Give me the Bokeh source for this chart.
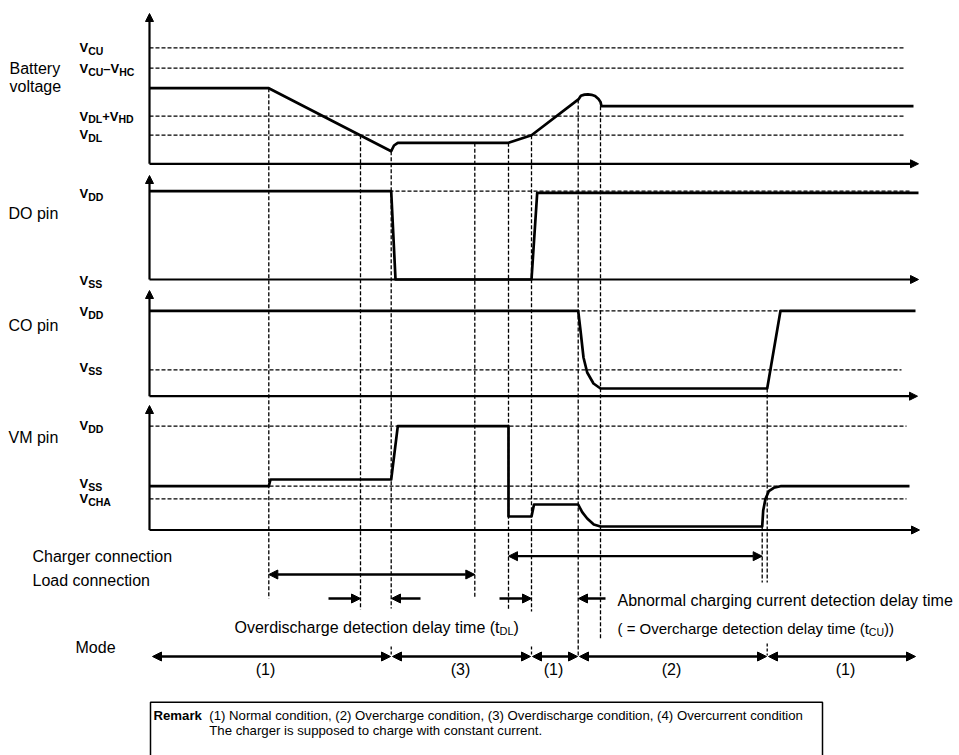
from bokeh.plotting import figure
from bokeh.models import Range1d, Arrow, NormalHead, ColumnDataSource
from bokeh.core.properties import value
from bokeh.embed import file_html
from bokeh.resources import INLINE

FONT = "Liberation Sans"

# ---------------- data (page pixel units) ----------------
origin_x = 149
axis_base_y = [163.3, 279.0, 395.7, 529.5]
axis_top_y = [13, 175, 290, 405]
axis_end_x = [918, 918, 917, 919]

# horizontal reference (dashed) levels
ref_y = [47.3, 67.7, 115.7, 134.7, 190.7, 310.3, 369.3, 425.7, 485.7, 498.3]
ref_end = [904, 904, 904, 904, 910, 912, 901, 906, 906, 906]

# waveforms
battery_t = [149, 268.3, 390.7, 393.5, 397.3, 508, 531, 577.9, 580.4, 584, 587.5, 591, 594.6, 598, 600, 601, 913]
battery_v = [87.7, 87.7, 150.7, 145, 142.3, 142.3, 134.7, 98.9, 95.3, 94.1, 93.9, 94.3, 95.5, 98.5, 101.4, 105.7, 105.7]
do_t = [149, 390.7, 395, 531, 536.7, 918]
do_v = [190.7, 190.7, 279, 279, 192.3, 192.3]
co_t = [149, 577.7, 580, 583, 586.7, 593, 600, 766.7, 780, 915]
co_v = [310.3, 310.3, 330, 357, 372, 383, 388, 388, 310.3, 310.3]
vm_t = [149, 268.3, 270, 390.7, 397.3, 508, 508, 531, 533.5, 577.7, 581.7, 586.7, 593.3, 600,
        761.7, 762.7, 765, 768.3, 773.3, 780, 909]
vm_v = [485.7, 485.7, 479, 479, 425.7, 425.7, 516, 516, 504, 504, 511.7, 518, 524, 526,
        526, 510, 498.3, 490.7, 487.3, 485.7, 485.7]

# vertical dashed time markers
mark_x = [268.3, 360, 390.7, 474.3, 508, 531, 577.7, 600, 761.7, 766.7]
mark_top = [87.7, 134.7, 150.7, 142.3, 142.3, 134.7, 98.9, 105.7, 526, 388]
mark_bot = [598, 609, 608, 597, 610, 611, 655, 639, 582, 582]
tick_x = [390.7, 531, 766.7]
tick_top = [646, 646, 643]
tick_bot = [655, 655, 655]

# connection arrows (double headed)
conn_x0 = [508, 268.3]
conn_x1 = [761.7, 474.3]
conn_y = [555.7, 574]
# delay arrows (single headed)
delay_x0 = [328, 420, 499, 605]
delay_x1 = [360, 391, 531, 578]
delay_y = [598, 598, 598, 598]

# mode row
mode_x0 = [152, 392, 532, 579, 768]
mode_x1 = [390, 530, 577, 766, 915]
mode_y = 656
mode_labels = ["(1)", "(3)", "(1)", "(2)", "(1)"]
mode_label_x = [265, 460, 553, 671, 845]

# left labels
side_text = ["Battery", "voltage", "DO pin", "CO pin", "VM pin", "Charger connection", "Load connection", "Mode"]
side_x = [9, 9, 8, 8, 8, 32, 32, 75]
side_y = [68, 86, 213, 325, 437, 556, 580, 647]

# voltage level labels: segments (text, is_subscript)
level_labels = [
    [("V", 0), ("CU", 1)],
    [("V", 0), ("CU", 1), ("\u2013", 0), ("V", 0), ("HC", 1)],
    [("V", 0), ("DL", 1), ("+", 0), ("V", 0), ("HD", 1)],
    [("V", 0), ("DL", 1)],
    [("V", 0), ("DD", 1)],
    [("V", 0), ("SS", 1)],
    [("V", 0), ("DD", 1)],
    [("V", 0), ("SS", 1)],
    [("V", 0), ("DD", 1)],
    [("V", 0), ("SS", 1)],
    [("V", 0), ("CHA", 1)],
]
level_label_y = [47, 68, 115.5, 134, 193, 280, 311, 367, 425, 483, 498]
level_label_x = 79

remark_lines = ["(1) Normal condition, (2) Overcharge condition, (3) Overdischarge condition, (4) Overcurrent condition",
                "The charger is supposed to charge with constant current."]

# ---------------- helpers ----------------
REG = dict(zip(" ()=,.0123456789", [278, 333, 333, 584, 278, 278] + [556] * 10))
REG.update(dict(A=667, B=667, C=722, D=722, E=667, F=611, G=778, H=722, I=278, J=500, K=667, L=556, M=833,
                N=722, O=778, P=667, Q=778, R=722, S=667, T=611, U=722, V=667, W=944, X=667, Y=667, Z=611,
                a=556, b=556, c=500, d=556, e=556, f=278, g=556, h=556, i=222, j=222, k=500, l=222, m=833,
                n=556, o=556, p=556, q=556, r=333, s=500, t=278, u=556, v=500, w=722, x=500, y=500, z=500))
BOLD = dict(A=722, C=722, D=722, H=722, L=611, S=667, U=722, V=667, R=722, e=556, m=889, a=556, r=389, k=556)
BOLD["\u2013"] = 556
BOLD["+"] = 584
BOLD[" "] = 278


def tw(s, size, table):
    return sum(table.get(c, 556) for c in s) * size / 1000.0


W, H = 959, 755
p = figure(width=W, height=H, x_range=Range1d(0, W), y_range=Range1d(H, 0),
           output_backend="svg", toolbar_location=None, min_border=0,
           x_axis_type=None, y_axis_type=None)
p.grid.visible = False
p.outline_line_color = None
p.background_fill_color = "white"
p.border_fill_color = "white"

# dashed reference levels
p.segment(x0=[origin_x] * len(ref_y), y0=ref_y, x1=ref_end, y1=ref_y,
          line_color="black", line_width=1.3, line_dash="4 2")
# vertical dashed markers
p.segment(x0=mark_x, y0=mark_top, x1=mark_x, y1=mark_bot,
          line_color="black", line_width=1.3, line_dash="4 2")
p.segment(x0=tick_x, y0=tick_top, x1=tick_x, y1=tick_bot,
          line_color="black", line_width=1.3, line_dash="3 2")

# axes with arrow heads
n = len(axis_base_y)
ax_src = ColumnDataSource(dict(x0=[origin_x] * n, y0=axis_base_y, x1=[origin_x] * n, y1=axis_top_y))
p.add_layout(Arrow(source=ax_src, x_start="x0", y_start="y0", x_end="x1", y_end="y1",
                   line_width=2.2, line_color="black",
                   end=NormalHead(size=8, fill_color="black", line_color="black", line_width=1)))
ah_src = ColumnDataSource(dict(x0=[origin_x] * n, y0=axis_base_y, x1=axis_end_x, y1=axis_base_y))
p.add_layout(Arrow(source=ah_src, x_start="x0", y_start="y0", x_end="x1", y_end="y1",
                   line_width=2.2, line_color="black",
                   end=NormalHead(size=8, fill_color="black", line_color="black", line_width=1)))

# waveforms
for tt, vv in [(battery_t, battery_v), (do_t, do_v), (co_t, co_v), (vm_t, vm_v)]:
    p.line(tt, vv, line_color="black", line_width=2.7, line_join="round")

# connection arrows
c_src = ColumnDataSource(dict(x0=conn_x0, x1=conn_x1, y=conn_y))
p.add_layout(Arrow(source=c_src, x_start="x0", y_start="y", x_end="x1", y_end="y",
                   line_width=2.3, line_color="black",
                   start=NormalHead(size=9, fill_color="black", line_color="black", line_width=1),
                   end=NormalHead(size=9, fill_color="black", line_color="black", line_width=1)))
d_src = ColumnDataSource(dict(x0=delay_x0, x1=delay_x1, y=delay_y))
p.add_layout(Arrow(source=d_src, x_start="x0", y_start="y", x_end="x1", y_end="y",
                   line_width=2.3, line_color="black",
                   end=NormalHead(size=9, fill_color="black", line_color="black", line_width=1)))
m_src = ColumnDataSource(dict(x0=mode_x0, x1=mode_x1, y=[mode_y] * len(mode_x0)))
p.add_layout(Arrow(source=m_src, x_start="x0", y_start="y", x_end="x1", y_end="y",
                   line_width=2.3, line_color="black",
                   start=NormalHead(size=9, fill_color="black", line_color="black", line_width=1),
                   end=NormalHead(size=9, fill_color="black", line_color="black", line_width=1)))

# side labels
p.text(x=side_x, y=side_y, text=side_text, text_font=value(FONT), text_font_size="16px",
       text_baseline="middle", text_align="left", text_color="black")
# mode labels
p.text(x=mode_label_x, y=[669] * len(mode_labels), text=mode_labels, text_font=value(FONT),
       text_font_size="16px", text_baseline="middle", text_align="center", text_color="black")

# level labels with subscripts
MAIN, SUB = 13.0, 10.5
mx, my, mt, sx, sy, st = [], [], [], [], [], []
for segs, yy in zip(level_labels, level_label_y):
    x = level_label_x
    for s, is_sub in segs:
        if is_sub:
            sx.append(x); sy.append(yy + 3); st.append(s)
            x += tw(s, SUB, BOLD)
        else:
            mx.append(x); my.append(yy); mt.append(s)
            x += tw(s, MAIN, BOLD)
p.text(x=mx, y=my, text=mt, text_font=value(FONT), text_font_style="bold", text_font_size="13px",
       text_baseline="middle", text_align="left", text_color="black")
p.text(x=sx, y=sy, text=st, text_font=value(FONT), text_font_style="bold", text_font_size="10.5px",
       text_baseline="middle", text_align="left", text_color="black")

# delay time texts with subscripts
# t_DL line (right end of "(t" fixed)
dl_end = 499
p.text(x=[dl_end], y=[627], text=["Overdischarge detection delay time (t"], text_font=value(FONT),
       text_font_size="16px", text_baseline="middle", text_align="right", text_color="black")
p.text(x=[dl_end], y=[630], text=["DL"], text_font=value(FONT), text_font_size="11px",
       text_baseline="middle", text_align="left", text_color="black")
p.text(x=[dl_end + tw("DL", 11, REG)], y=[627], text=[")"], text_font=value(FONT),
       text_font_size="16px", text_baseline="middle", text_align="left", text_color="black")

# abnormal charging lines (left aligned)
ab_x = 617
p.text(x=[ab_x], y=[600], text=["Abnormal charging current detection delay time"], text_font=value(FONT),
       text_font_size="16px", text_baseline="middle", text_align="left", text_color="black")
L2 = "( = Overcharge detection delay time (t"
F2 = 15.0
cu_x = ab_x + tw(L2, F2, REG)
p.text(x=[ab_x], y=[628], text=[L2], text_font=value(FONT), text_font_size="15px",
       text_baseline="middle", text_align="left", text_color="black")
p.text(x=[cu_x], y=[631], text=["CU"], text_font=value(FONT), text_font_size="10.5px",
       text_baseline="middle", text_align="left", text_color="black")
p.text(x=[cu_x + tw("CU", 10.5, REG)], y=[628], text=["))"], text_font=value(FONT),
       text_font_size="15px", text_baseline="middle", text_align="left", text_color="black")

# remark box (its bottom edge lies below the picture)
box_l, box_t, box_r, box_b = 150, 701.7, 822, 760
p.multi_line(xs=[[box_l, box_l, box_r, box_r]], ys=[[box_b, box_t, box_t, box_b]],
             line_color="black", line_width=1.5)
RS = 13.2
rx = 153
p.text(x=[rx], y=[715], text=["Remark"], text_font=value(FONT), text_font_style="bold",
       text_font_size="%.1fpx" % RS, text_baseline="middle", text_align="left", text_color="black")
rx2 = rx + tw("Remark", RS, BOLD) + tw("  ", RS, REG)
p.text(x=[rx2, rx2], y=[715, 730], text=remark_lines, text_font=value(FONT),
       text_font_size="%.1fpx" % RS, text_baseline="middle", text_align="left", text_color="black")

open("out.html", "w").write(file_html(p, INLINE))
